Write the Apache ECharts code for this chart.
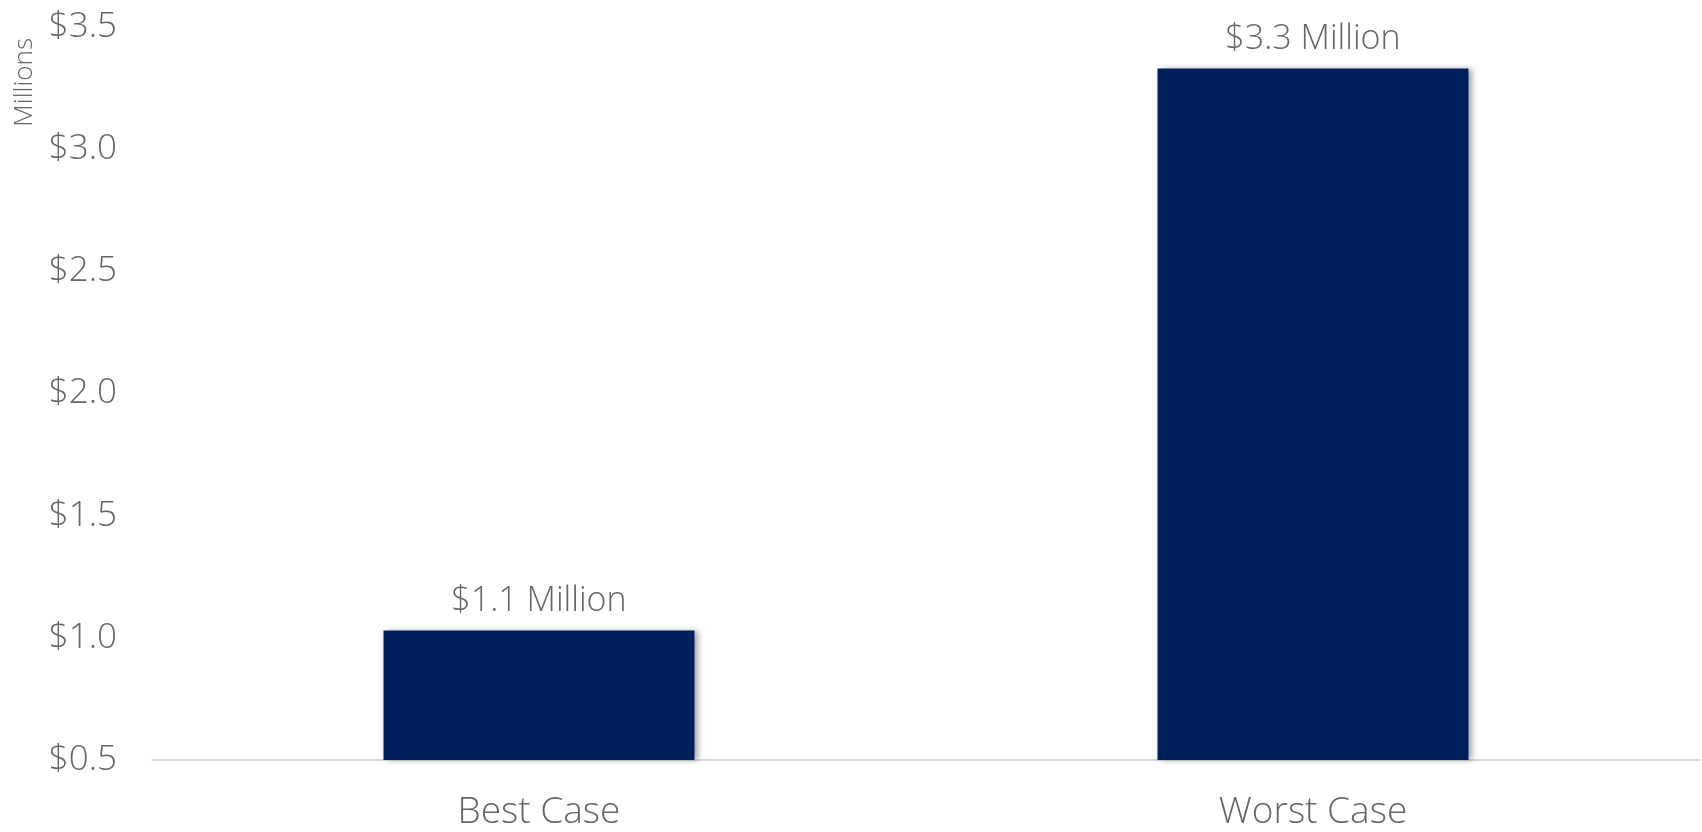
<!DOCTYPE html>
<html>
<head>
<meta charset="utf-8">
<script src="https://cdn.jsdelivr.net/npm/echarts@6/dist/echarts.min.js"></script>
<style>
html,body{margin:0;padding:0;background:#fff;}
#chart{width:1702px;height:832px;}
</style>
</head>
<body>
<div id="chart"></div>
<script>
const categories = ["Best Case", "Worst Case"];
const values = [1.03, 3.33];
const valueLabels = ["$1.1 Million", "$3.3 Million"];
const yTicks = [0.5, 1.0, 1.5, 2.0, 2.5, 3.0, 3.5];
const unitLabel = "Millions";

const chart = echarts.init(document.getElementById('chart'));
chart.setOption({
  animation: false,
  backgroundColor: '#ffffff',
  grid: { left: 152, right: 2, top: 27, bottom: 72, containLabel: false, outerBoundsMode: 'none' },
  graphic: [{
    type: 'text',
    left: 12, top: 38,
    rotation: Math.PI / 2,
    style: { text: unitLabel, fill: '#666666', fontSize: 26, fontFamily: 'Open Sans', fontWeight: 300 }
  }],
  xAxis: {
    type: 'category',
    data: categories,
    axisLine: { show: true, lineStyle: { color: '#d9d9d9', width: 2 } },
    axisTick: { show: false },
    axisLabel: { color: '#666666', fontSize: 37, fontFamily: 'Open Sans', fontWeight: 300, margin: 34 }
  },
  yAxis: {
    type: 'value',
    min: yTicks[0],
    max: yTicks[yTicks.length - 1],
    interval: 0.5,
    axisLine: { show: false },
    axisTick: { show: false },
    splitLine: { show: false },
    axisLabel: {
      color: '#666666', fontSize: 35, fontFamily: 'Open Sans', fontWeight: 300, margin: 35, align: 'right',
      formatter: v => '$' + v.toFixed(1)
    }
  },
  series: [{
    type: 'bar',
    data: values,
    barWidth: 311,
    itemStyle: { color: '#00205b', shadowColor: 'rgba(0,0,0,0.35)', shadowBlur: 6, shadowOffsetX: 3, shadowOffsetY: 0 },
    label: {
      show: true, position: 'top', distance: 12,
      color: '#666666', fontSize: 34, fontFamily: 'Open Sans', fontWeight: 300,
      formatter: p => valueLabels[p.dataIndex]
    }
  }]
});
</script>
</body>
</html>
